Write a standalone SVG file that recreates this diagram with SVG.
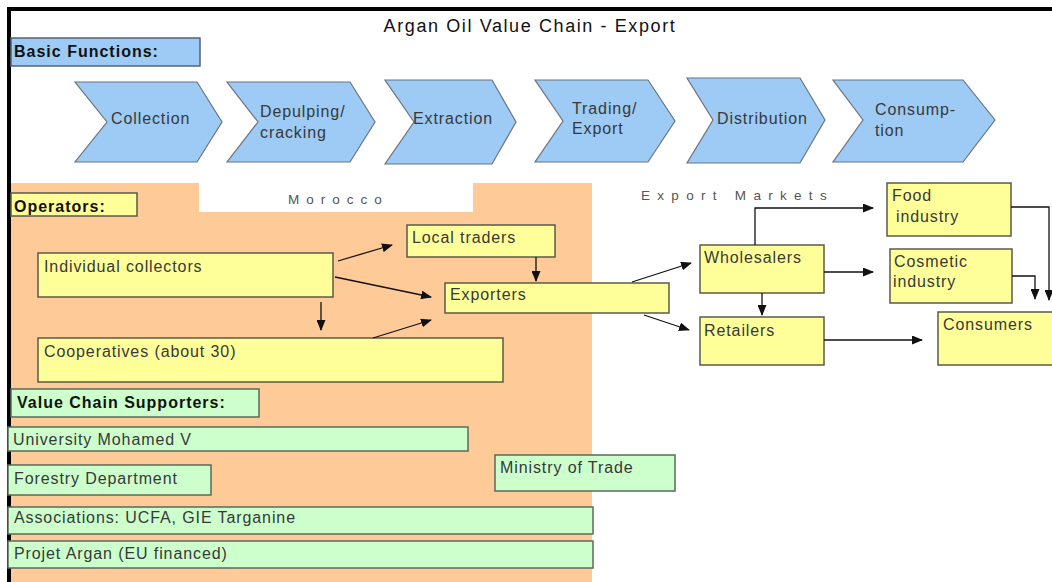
<svg xmlns="http://www.w3.org/2000/svg" width="1052" height="582" viewBox="0 0 1052 582">
<style>
text{font-family:"Liberation Sans",Arial,sans-serif;}
.t{font-size:16px;fill:#383838;letter-spacing:0.9px;}
.b{font-size:16px;font-weight:bold;fill:#111;letter-spacing:1px;}
.sp{font-size:13.5px;fill:#555;}
.chev{fill:#9dcbf5;stroke:#6b7380;stroke-width:1.2;}
.y{fill:#ffff99;stroke:#5a5a4a;stroke-width:1.5;}
.g{fill:#ccffcc;stroke:#5a6a5a;stroke-width:1.5;}
.bl{fill:#9dcbf5;stroke:#5a6070;stroke-width:1.5;}
.c{fill:none;stroke:#111;stroke-width:1.3;}
</style>
<defs>
<marker id="ah" markerUnits="userSpaceOnUse" markerWidth="11" markerHeight="9" refX="10" refY="4.5" orient="auto">
<path d="M0,0 L11,4.5 L0,9 z" fill="#111"/>
</marker>
</defs>
<rect x="0" y="0" width="1052" height="582" fill="#fff"/>
<rect x="11" y="183" width="581" height="399" fill="#fdca98"/>
<rect x="199" y="183" width="274" height="29" fill="#fff"/>
<rect x="7" y="7" width="1045" height="4" fill="#000"/>
<rect x="7" y="7" width="4" height="575" fill="#000"/>
<text x="530" y="32" text-anchor="middle" style="font-size:18px;fill:#111;letter-spacing:1.6px">Argan Oil Value Chain - Export</text>
<g id="basic-functions"><rect class="bl" x="11" y="38" width="189" height="28"/><text class="b" x="14" y="57">Basic Functions:</text></g>
<g id="collection"><polygon class="chev" points="75,82 197,82 222,122 197,162 75,162 107,122"/><text class="t" x="111" y="124">Collection</text></g>
<g id="depulping"><polygon class="chev" points="227,82 350,82 375,122 350,162 227,162 258,122"/><text class="t" x="260" y="117">Depulping/</text><text class="t" x="260" y="138">cracking</text></g>
<g id="extraction"><polygon class="chev" points="385,80 492,80 516,122 492,164 385,164 414,122"/><text class="t" x="413" y="124">Extraction</text></g>
<g id="trading"><polygon class="chev" points="535,80 648,80 675,121 648,162 535,162 563,121"/><text class="t" x="572" y="114">Trading/</text><text class="t" x="572" y="134">Export</text></g>
<g id="distribution"><polygon class="chev" points="687,78 800,78 825,120 800,163 687,163 713,120"/><text class="t" x="717" y="124">Distribution</text></g>
<g id="consumption"><polygon class="chev" points="833,80 963,80 995,120 963,162 833,162 863,120"/><text class="t" x="875" y="115">Consump-</text><text class="t" x="875" y="136">tion</text></g>
<text class="sp" x="288" y="204" style="letter-spacing:7px">Morocco</text>
<text class="sp" x="641" y="200" style="letter-spacing:7.3px">Export Markets</text>
<g id="operators"><rect class="y" x="11" y="193" width="126" height="23"/><text class="b" x="14" y="212">Operators:</text></g>
<g id="individual-collectors"><rect class="y" x="38" y="253" width="295" height="44"/><text class="t" x="44" y="272">Individual collectors</text></g>
<g id="cooperatives"><rect class="y" x="38" y="338" width="465" height="44"/><text class="t" x="44" y="357">Cooperatives (about 30)</text></g>
<g id="local-traders"><rect class="y" x="407" y="225" width="148" height="32"/><text class="t" x="412" y="243">Local traders</text></g>
<g id="exporters"><rect class="y" x="445" y="283" width="224" height="30"/><text class="t" x="450" y="300">Exporters</text></g>
<g id="wholesalers"><rect class="y" x="700" y="245" width="124" height="48"/><text class="t" x="704" y="263">Wholesalers</text></g>
<g id="retailers"><rect class="y" x="700" y="317" width="124" height="48"/><text class="t" x="704" y="336">Retailers</text></g>
<g id="food-industry"><rect class="y" x="887" y="183" width="124" height="53"/><text class="t" x="892" y="201">Food</text><text class="t" x="896" y="222">industry</text></g>
<g id="cosmetic-industry"><rect class="y" x="890" y="249" width="122" height="54"/><text class="t" x="894" y="267">Cosmetic</text><text class="t" x="893" y="287">industry</text></g>
<g id="consumers"><rect class="y" x="938" y="312" width="120" height="53"/><text class="t" x="943" y="330">Consumers</text></g>
<g id="value-chain-supporters"><rect class="g" x="11" y="389" width="248" height="28"/><text class="b" x="17" y="408">Value Chain Supporters:</text></g>
<g id="university"><rect class="g" x="8" y="427" width="460" height="24"/><text class="t" x="13" y="445">University Mohamed V</text></g>
<g id="forestry"><rect class="g" x="8" y="465" width="203" height="30"/><text class="t" x="14" y="484">Forestry Department</text></g>
<g id="ministry"><rect class="g" x="495" y="455" width="180" height="36"/><text class="t" x="500" y="473">Ministry of Trade</text></g>
<g id="associations"><rect class="g" x="8" y="507" width="585" height="27"/><text class="t" x="14" y="523">Associations: UCFA, GIE Targanine</text></g>
<g id="projet-argan"><rect class="g" x="8" y="541" width="585" height="27"/><text class="t" x="14" y="559">Projet Argan (EU financed)</text></g>
<g id="connectors">
<path class="c" marker-end="url(#ah)" d="M338,261 L392,245"/>
<path class="c" marker-end="url(#ah)" d="M335,277 L431,297"/>
<path class="c" marker-end="url(#ah)" d="M321,302 L321,330"/>
<path class="c" marker-end="url(#ah)" d="M373,338 L431,320"/>
<path class="c" marker-end="url(#ah)" d="M536,257 L536,281"/>
<path class="c" marker-end="url(#ah)" d="M632,282 L691,263"/>
<path class="c" marker-end="url(#ah)" d="M644,315 L689,330"/>
<path class="c" marker-end="url(#ah)" d="M755,245 L755,208 L873,208"/>
<path class="c" marker-end="url(#ah)" d="M824,272 L873,272"/>
<path class="c" marker-end="url(#ah)" d="M762,293 L762,315"/>
<path class="c" marker-end="url(#ah)" d="M824,340 L922,340"/>
<path class="c" marker-end="url(#ah)" d="M1011,207 L1049,207 L1049,300"/>
<path class="c" marker-end="url(#ah)" d="M1012,276 L1035,276 L1035,299"/>
</g>
</svg>
